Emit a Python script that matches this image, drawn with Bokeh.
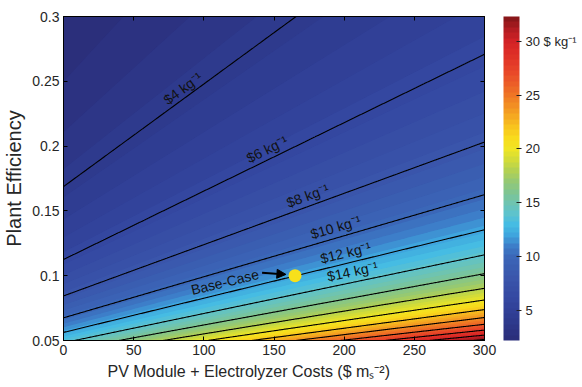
import numpy as np
from bokeh.plotting import figure
from bokeh.models import (ColorBar, LinearColorMapper, FixedTicker, LinearAxis, Title,
                          Arrow, NormalHead, CustomJSTickFormatter, Range1d)
from bokeh.core.properties import value
from bokeh.embed import file_html
from bokeh.resources import INLINE

# --- hydrogen cost model: cost = (fixed_term + capex_term * capex) / efficiency ---
capex_range = [0, 300]            # PV module + electrolyzer costs ($ m_s^-2)
efficiency_range = [0.05, 0.30]   # plant efficiency
fixed_term = 0.675                # $ kg^-1 (at unit efficiency, zero capex)
capex_term = 0.003167             # $ kg^-1 per $ m^-2 (at unit efficiency)

# contour lines and their labels
line_levels = [4, 6, 8, 10, 12, 14, 16, 18, 20, 22, 24, 26, 28, 30, 32]
labeled_levels = [4, 6, 8, 10, 12, 14]
label_capex = [85, 145, 174, 194, 201, 206]

# base case
base_capex = 165
base_efficiency = 0.10
base_label_capex = 115
base_label_level = 12

# ticks
x_ticks = [0, 50, 100, 150, 200, 250, 300]
y_ticks = [0.05, 0.1, 0.15, 0.2, 0.25, 0.3]
cbar_ticks = [5, 10, 15, 20, 25, 30]
cbar_low, cbar_high = 2.2, 32.3

# colour scale stops ($ kg^-1 -> colour)
stop_values = [2.2, 4, 6, 8, 10, 11, 12, 13, 14, 15, 16, 17, 18, 19, 20, 21, 22, 23,
               24, 25, 26, 27, 28, 29, 30, 31, 32.3]
stop_colors = ["#2b2d78", "#2e3a8e", "#3447a0", "#3a55ab", "#3b67b8", "#3d7fc9",
               "#3fa6de", "#46bce3", "#5ec3cc", "#6fc4b0", "#80c590", "#96c972",
               "#b3d152", "#d3dc38", "#efe524", "#f8db1c", "#f8c41d", "#f5a921",
               "#f28f23", "#ef7625", "#ec5f27", "#e94a28", "#e33a28", "#dc2c27",
               "#d22226", "#b51c22", "#7e1517"]

FONT = "Liberation Sans"
TEXT = "#262626"


def interp_color(v):
    rgb = np.array([[int(c[i:i + 2], 16) for i in (1, 3, 5)] for c in stop_colors], float)
    out = [np.interp(v, stop_values, rgb[:, k]) for k in range(3)]
    return "#%02x%02x%02x" % tuple(int(round(c)) for c in out)


def cost(capex, eff):
    return (fixed_term + capex_term * capex) / eff


FRAME_W, FRAME_H = 421, 324

# cost surface sampled on a grid (one cell per screen pixel for the raster underlay)
xs = np.linspace(capex_range[0], capex_range[1], FRAME_W)
ys = np.linspace(efficiency_range[0], efficiency_range[1], FRAME_H)
X, Y = np.meshgrid(xs, ys)
Z = cost(X, Y)

fill_levels = list(np.linspace(cbar_low, cbar_high, 61))
band_colors = [interp_color(0.5 * (a + b)) for a, b in zip(fill_levels[:-1], fill_levels[1:])]
fill_levels[0] = min(fill_levels[0], float(Z.min()) - 0.01)
fill_levels[-1] = max(fill_levels[-1], float(Z.max()) + 0.01)
mapper = LinearColorMapper(palette=band_colors, low=cbar_low, high=cbar_high)

p = figure(width=582, height=387, output_backend="svg", toolbar_location=None,
           x_range=Range1d(*capex_range), y_range=Range1d(*efficiency_range),
           min_border_left=63, min_border_right=98, min_border_top=16, min_border_bottom=47)
p.grid.visible = False
p.outline_line_color = "black"
p.outline_line_width = 1
p.background_fill_color = "white"

# banded raster underneath, filled contour bands on top, then the contour lines
p.image(image=[Z], x=capex_range[0], y=efficiency_range[0],
        dw=capex_range[1] - capex_range[0], dh=efficiency_range[1] - efficiency_range[0],
        color_mapper=mapper)
p.contour(xs, ys, Z, fill_levels, fill_color=band_colors, line_color=None)
p.contour(xs, ys, Z, line_levels, fill_color=None, line_color="black", line_width=1.1)

# labels along the lines
px_per_x = FRAME_W / (capex_range[1] - capex_range[0])
px_per_y = FRAME_H / (efficiency_range[1] - efficiency_range[0])


def line_angle(level):
    return float(np.arctan(capex_term / level * px_per_y / px_per_x))


lab_x = label_capex
lab_y = [(fixed_term + capex_term * c) / lv for c, lv in zip(label_capex, labeled_levels)]
lab_t = ["$%d kg\u207b\u00b9" % lv for lv in labeled_levels]
lab_a = [line_angle(lv) for lv in labeled_levels]
p.text(x=lab_x, y=lab_y, text=lab_t, angle=lab_a, text_font=value(FONT),
       text_font_size=value("14px"), text_color="#111111", text_align="center",
       text_baseline="middle", y_offset=-11)

# base case marker
bl_y = (fixed_term + capex_term * base_label_capex) / base_label_level
p.text(x=[base_label_capex], y=[bl_y], text=["Base-Case"], angle=[line_angle(base_label_level)],
       text_font=value(FONT), text_font_size=value("14px"), text_color="#111111",
       text_align="center", text_baseline="middle", y_offset=-11)
p.add_layout(Arrow(end=NormalHead(size=9, fill_color="black", line_color="black"),
                   x_start=base_capex - 23.5, y_start=base_efficiency + 0.0022,
                   x_end=base_capex - 6.5, y_end=base_efficiency + 0.0010,
                   line_color="black", line_width=2))
p.scatter([base_capex], [base_efficiency], size=13, fill_color="#f7e01b", line_color=None)

# axes
for ax in (p.xaxis[0], p.yaxis[0]):
    ax.axis_line_color = "black"
    ax.major_tick_in = 4
    ax.major_tick_out = 0
    ax.minor_tick_line_color = None
    ax.major_tick_line_color = "black"
    ax.major_label_text_font = FONT
    ax.major_label_text_font_size = "14px"
    ax.major_label_text_color = TEXT
    ax.major_label_standoff = 4
p.xaxis.ticker = FixedTicker(ticks=x_ticks)
p.yaxis.ticker = FixedTicker(ticks=y_ticks)
p.yaxis.formatter = CustomJSTickFormatter(code="return String(tick)")
p.yaxis.axis_label = "Plant Efficiency"
p.yaxis.axis_label_text_font = FONT
p.yaxis.axis_label_text_font_size = "20px"
p.yaxis.axis_label_text_font_style = "normal"
p.yaxis.axis_label_text_color = TEXT
p.yaxis.axis_label_standoff = 4

# x axis title, set a little left of centre
p.add_layout(Title(text="PV Module + Electrolyzer Costs ($ m\u209b\u207b\u00b2)", align="left",
                   offset=44, standoff=6, text_font=FONT, text_font_size="16px",
                   text_font_style="normal", text_color=TEXT), "below")

# tick marks on the top and right edges
for side, ticks in (("above", x_ticks), ("right", y_ticks)):
    ax = LinearAxis(ticker=FixedTicker(ticks=ticks),
                    formatter=CustomJSTickFormatter(code="return ''"),
                    major_label_standoff=0, major_tick_in=4, major_tick_out=0,
                    minor_tick_line_color=None, axis_line_color="black")
    p.add_layout(ax, side)

# colour bar, with the unit written beside its top label
cb = ColorBar(color_mapper=mapper, ticker=FixedTicker(ticks=cbar_ticks), width=16, height=FRAME_H,
              location=(440, 0), margin=0, padding=0, bar_line_color=None,
              formatter=CustomJSTickFormatter(
                  code="return tick == 30 ? '30 $ kg\u207b\u00b9' : String(tick)"),
              major_tick_in=3, major_tick_out=2, major_tick_line_color="#222222",
              label_standoff=4, major_label_text_font=FONT, major_label_text_font_size="13px",
              major_label_text_color=TEXT, background_fill_color=None, border_line_color=None)
p.add_layout(cb)

open("out.html", "w").write(file_html(p, INLINE))
